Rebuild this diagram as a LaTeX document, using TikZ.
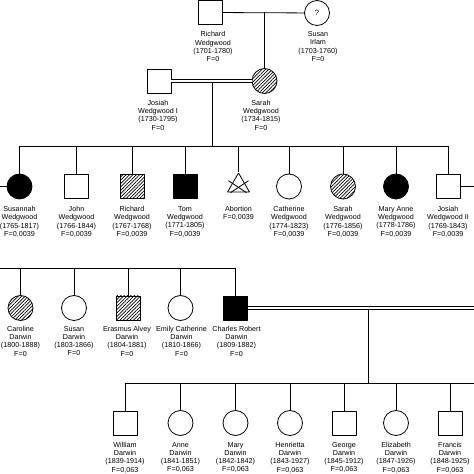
\documentclass[tikz,border=0pt]{standalone}
\usepackage{fontspec}
\setmainfont{Liberation Sans}
\usetikzlibrary{shapes.geometric, patterns.meta}

\begin{document}
\begin{tikzpicture}[line width=0.8bp,line join=bevel,
  sq/.style={draw,rectangle,minimum size=24bp,inner sep=0pt},
  ci/.style={draw,circle,minimum size=25bp,inner sep=0pt},
  tri/.style={draw,regular polygon,regular polygon sides=3,minimum size=25.4bp,inner sep=0pt},
  aff/.style={fill=black},
  hat/.style={pattern={Lines[angle=45,distance=2.4bp,line width=0.7bp]}},
  lbl/.style={anchor=north,inner sep=0pt,align=center,font=\fontsize{7.2}{8.3}\selectfont},
  dbl/.style={double,double distance=1.6bp},
]
\useasboundingbox (0bp,0bp) rectangle (474bp,474bp);
%%
\node (node_0) at (210.5bp,461.5bp) [sq] {};
  \node (node_1) at (317bp,461bp) [ci] {\fontsize{7.6}{8}\selectfont ?};
  \node (node_2) at (159bp,393bp) [sq] {};
  \node (node_3) at (264.5bp,393bp) [ci,hat] {};
  \node (lbl_0) at (213bp,442.8bp) [lbl] {Richard\\Wedgwood\\(1701-1780)\\F=0};
  \node (lbl_1) at (318bp,442.8bp) [lbl] {Susan\\Irlam\\(1703-1760)\\F=0};
  \node (lbl_2) at (158bp,374.3bp) [lbl] {Josiah\\Wedgwood I\\(1730-1795)\\F=0};
  \node (lbl_3) at (261bp,374.3bp) [lbl] {Sarah\\Wedgwood\\(1734-1815)\\F=0};
  \coordinate (m_0) at (264.5bp,461.5bp);
  \coordinate (m_1) at (212bp,391.6bp);
  \coordinate (sib_0) at (19.5bp,328bp);
  \coordinate (sib_1) at (448bp,328bp);
  \draw (node_0) -- (node_1);
  \draw (m_0) -- (node_3);
  \draw (m_1) -- (m_1 |- sib_0);
  \draw [dbl] (node_2) -- (node_3);
  \draw (sib_0) -- (sib_1);
%
\node (node_4) at (19.5bp,287.5bp) [ci,aff] {};
  \node (node_5) at (76.5bp,287.5bp) [sq] {};
  \node (node_6) at (132bp,287.5bp) [sq,hat] {};
  \node (node_7) at (185bp,287.5bp) [sq,aff] {};
  \node (node_8) at (238.5bp,288.3bp) [tri] {};
  \node (node_9) at (289bp,287.5bp) [ci] {};
  \node (node_10) at (343bp,287.5bp) [ci,hat] {};
  \node (node_11) at (396bp,287.5bp) [ci,aff] {};
  \node (node_12) at (448bp,287.5bp) [sq] {};
  \node (lbl_4) at (19.5bp,268bp) [lbl] {Susannah\\Wedgwood\\(1765-1817)\\F=0,0039};
  \node (lbl_5) at (76.5bp,268bp) [lbl] {John\\Wedgwood\\(1766-1844)\\F=0,0039};
  \node (lbl_6) at (132bp,268bp) [lbl] {Richard\\Wedgwood\\(1767-1768)\\F=0,0039};
  \node (lbl_7) at (185bp,268bp) [lbl] {Tom\\Wedgwood\\(1771-1805)\\F=0,0039};
  \node (lbl_8) at (238.5bp,268bp) [lbl] {Abortion\\F=0,0039};
  \node (lbl_9) at (289bp,268bp) [lbl] {Catherine\\Wedgwood\\(1774-1823)\\F=0,0039};
  \node (lbl_10) at (343bp,268bp) [lbl] {Sarah\\Wedgwood\\(1776-1856)\\F=0,0039};
  \node (lbl_11) at (396bp,268bp) [lbl] {Mary Anne\\Wedgwood\\(1778-1786)\\F=0,0039};
  \node (lbl_12) at (448bp,268bp) [lbl] {Josiah\\Wedgwood II\\(1769-1843)\\F=0,0039};
  \coordinate (edge_0) at (0bp,287.5bp);
  \coordinate (edge_1) at (474bp,287.5bp);
  \foreach \n in {4,...,12}
    \draw (node_\n) -- (node_\n |- sib_0);
  \draw ([shift={(-10bp,5bp)}]node_8.center) -- ([shift={(8bp,-7bp)}]node_8.center);
  \draw ([shift={(10bp,5bp)}]node_8.center) -- ([shift={(-8bp,-7bp)}]node_8.center);
  \draw (edge_0) -- (node_4);
  \draw (node_12) -- (edge_1);
%
\node (node_13) at (20.5bp,166bp) [ci,hat] {};
  \node (node_14) at (74bp,166bp) [ci] {};
  \node (node_15) at (128bp,166bp) [sq,hat] {};
  \node (node_16) at (180.5bp,166bp) [ci] {};
  \node (node_17) at (235.5bp,166bp) [sq,aff] {};
  \node (lbl_13) at (20.5bp,148.3bp) [lbl] {Caroline\\Darwin\\(1800-1888)\\F=0};
  \node (lbl_14) at (74bp,148.3bp) [lbl] {Susan\\Darwin\\(1803-1866)\\F=0};
  \node (lbl_15) at (127bp,148.3bp) [lbl] {Erasmus Alvey\\Darwin\\(1804-1881)\\F=0};
  \node (lbl_16) at (181.5bp,148.3bp) [lbl] {Emily Catherine\\Darwin\\(1810-1866)\\F=0};
  \node (lbl_17) at (236.5bp,148.3bp) [lbl] {Charles Robert\\Darwin\\(1809-1882)\\F=0};
  \coordinate (sib_2) at (0bp,206bp);
  \coordinate (sib_3) at (235.5bp,206bp);
  \coordinate (edge_2) at (474bp,166bp);
  \coordinate (m_2) at (368bp,165bp);
  \draw (sib_2) -- (sib_3);
  \foreach \n in {13,...,17}
    \draw (node_\n) -- (node_\n |- sib_2);
  \draw (m_2) -- (368bp,91bp) coordinate (sib_5);
  \draw [dbl] (node_17) -- (edge_2);
%
\node (node_18) at (125bp,51bp) [sq] {};
  \node (node_19) at (180.5bp,51bp) [ci] {};
  \node (node_20) at (235.5bp,51bp) [ci] {};
  \node (node_21) at (290bp,51bp) [ci] {};
  \node (node_22) at (344bp,51bp) [sq] {};
  \node (node_23) at (396bp,51bp) [ci] {};
  \node (node_24) at (450bp,51bp) [sq] {};
  \node (lbl_18) at (125bp,32.3bp) [lbl] {William\\Darwin\\(1839-1914)\\F=0,063};
  \node (lbl_19) at (180.5bp,32.3bp) [lbl] {Anne\\Darwin\\(1841-1851)\\F=0,063};
  \node (lbl_20) at (235.5bp,32.3bp) [lbl] {Mary\\Darwin\\(1842-1842)\\F=0,063};
  \node (lbl_21) at (290bp,32.3bp) [lbl] {Henrietta\\Darwin\\(1843-1927)\\F=0,063};
  \node (lbl_22) at (344bp,32.3bp) [lbl] {George\\Darwin\\(1845-1912)\\F=0,063};
  \node (lbl_23) at (396bp,32.3bp) [lbl] {Elizabeth\\Darwin\\(1847-1926)\\F=0,063};
  \node (lbl_24) at (450bp,32.3bp) [lbl] {Francis\\Darwin\\(1848-1925)\\F=0,063};
  \coordinate (sib_4) at (125bp,91bp);
  \coordinate (sib_6) at (474bp,91bp);
  \draw (sib_4) -- (sib_6);
  \foreach \n in {18,...,24}
    \draw (node_\n) -- (node_\n |- sib_4);
%
\end{tikzpicture}
\end{document}
